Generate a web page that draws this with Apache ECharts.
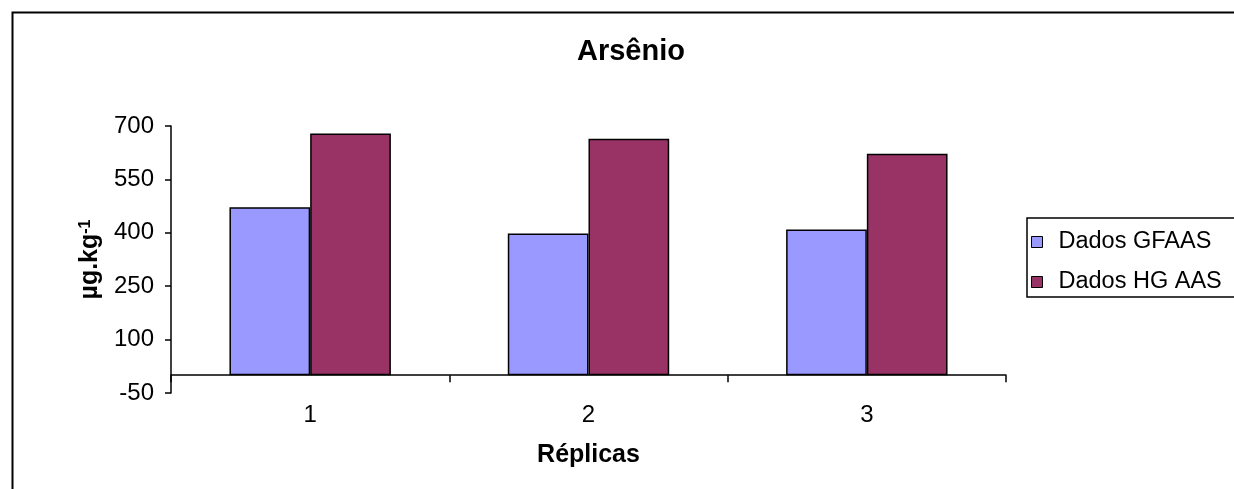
<!DOCTYPE html>
<html><head><meta charset="utf-8">
<script src="https://cdn.jsdelivr.net/npm/echarts@6/dist/echarts.min.js"></script>
<style>html,body{margin:0;padding:0;background:#fff}#c{width:1234px;height:489px}</style>
</head><body><div id="c"></div>
<script>
const categories = ['1', '2', '3'];
const gfaas = [472, 398, 409];
const hgaas = [679, 664, 622];
const yTicks = { min: -50, max: 700, interval: 150 };
const seriesNames = ['Dados GFAAS', 'Dados HG AAS'];

const F = 'Liberation Sans, Arial, sans-serif';
const chart = echarts.init(document.getElementById('c'), null, { renderer: 'canvas' });
chart.setOption({
  animation: false,
  backgroundColor: '#fff',
  title: {
    text: 'Arsênio', left: 626, top: 32, textAlign: 'center',
    textStyle: { fontFamily: F, fontSize: 29, fontWeight: 'bold', color: '#000' }
  },
  graphic: [{
    type: 'rect', left: 10, top: 10, shape: { x: 0, y: 0, width: 1260, height: 520 },
    style: { fill: 'none', stroke: '#000', lineWidth: 2 }, silent: true, z: 100
  }],
  legend: {
    orient: 'vertical', left: 1027, top: 218,
    padding: [12, 40, 3, 4],
    itemWidth: 11, itemHeight: 11, itemGap: 16,
    borderColor: '#000', borderWidth: 1.5,
    textStyle: { fontFamily: F, fontSize: 23.5, color: '#000', padding: [0, 0, 0, 11] },
    data: seriesNames.map(n => ({ name: n, icon: 'rect', itemStyle: { borderColor: '#000', borderWidth: 1 } }))
  },
  grid: { left: 171, right: 228, top: 126, bottom: 96 },
  xAxis: {
    type: 'category', data: categories,
    name: 'Réplicas', nameLocation: 'middle', nameGap: 50,
    nameTextStyle: { fontFamily: F, fontSize: 25, fontWeight: 'bold', color: '#000' },
    axisLine: { onZero: true, lineStyle: { color: '#000', width: 1.5 } },
    axisTick: { show: true, length: 7, inside: false, lineStyle: { color: '#000', width: 1.5 } },
    axisLabel: { fontFamily: F, fontSize: 24, color: '#000', margin: 10 }
  },
  yAxis: {
    type: 'value', min: yTicks.min, max: yTicks.max, interval: yTicks.interval,
    name: '{a|µg.kg}{s|-1}', nameLocation: 'middle', nameGap: 51, nameRotate: 90,
    nameTextStyle: {
      fontFamily: F, fontSize: 25, fontWeight: 'bold', color: '#000',
      rich: {
        a: { fontFamily: F, fontSize: 25, fontWeight: 'bold', color: '#000' },
        s: { fontFamily: F, fontSize: 16, fontWeight: 'bold', color: '#000', verticalAlign: 'top', padding: [0, 0, 10, 0] }
      }
    },
    splitLine: { show: false },
    axisLine: { show: true, lineStyle: { color: '#000', width: 1.5 } },
    axisTick: { show: true, length: 6, lineStyle: { color: '#000', width: 1.5 } },
    axisLabel: { fontFamily: F, fontSize: 24, color: '#000', margin: 17 }
  },
  series: [
    { name: seriesNames[0], type: 'bar', data: gfaas, barGap: '0%', barCategoryGap: '42%',
      itemStyle: { color: '#9999FF', borderColor: '#000', borderWidth: 1.5 } },
    { name: seriesNames[1], type: 'bar', data: hgaas, barGap: '0%', barCategoryGap: '42%',
      itemStyle: { color: '#993366', borderColor: '#000', borderWidth: 1.5 } }
  ]
});
</script></body></html>
